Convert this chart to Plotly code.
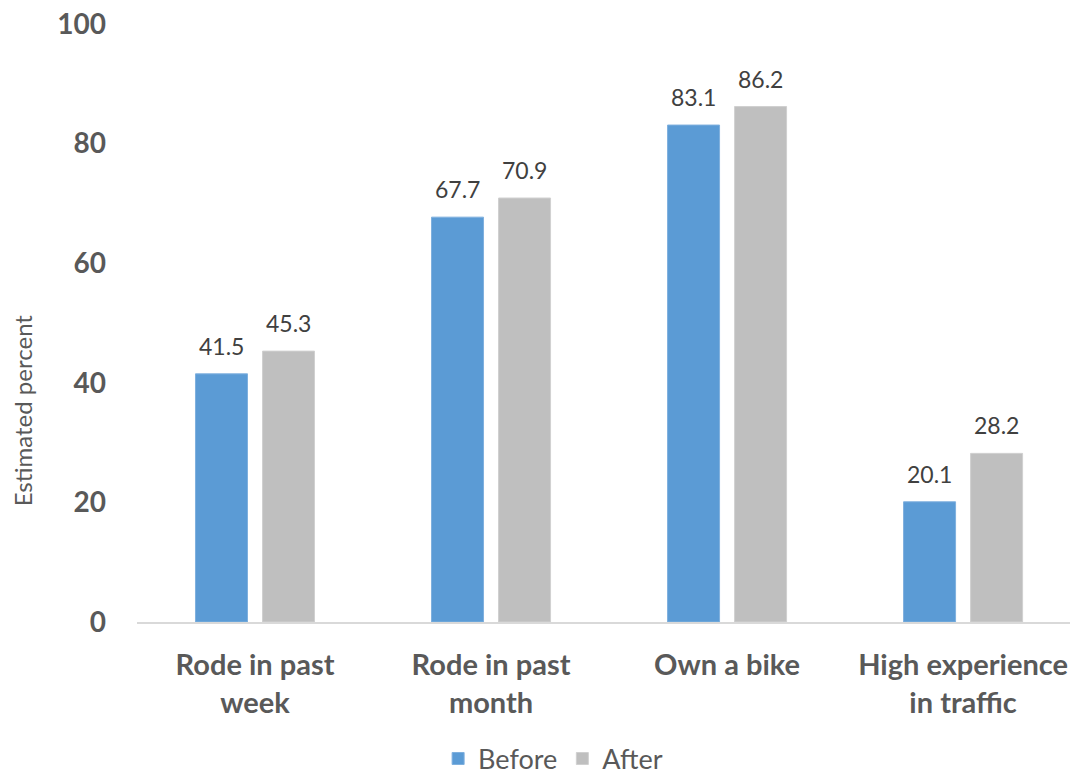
import plotly.graph_objects as go

categories = ["Rode in past<br>week", "Rode in past<br>month", "Own a bike", "High experience<br>in traffic"]
before = [41.5, 67.7, 83.1, 20.1]
after = [45.3, 70.9, 86.2, 28.2]
y_ticks = [0, 20, 40, 60, 80, 100]

FONT = "Lato, 'Open Sans', sans-serif"
BLUE = "#5B9BD5"
GRAY = "#BFBFBF"
LABEL_FONT = dict(family=FONT, size=23, color="#404040")

fig = go.Figure()
fig.add_trace(go.Bar(
    name="Before", x=categories, y=before,
    marker=dict(color=BLUE, line=dict(color="#7FB0DE", width=1)),
))
fig.add_trace(go.Bar(
    name="After", x=categories, y=after,
    marker=dict(color=GRAY, line=dict(color="#D0D0D0", width=1)),
))

# value labels above each bar (bars sit 33.5 px either side of the category centre)
for vals, shift in ((before, -33.5), (after, 33.5)):
    for cat, v in zip(categories, vals):
        fig.add_annotation(
            x=cat, y=v, xref="x", yref="y", text=f"{v:.1f}",
            showarrow=False, xshift=shift, yshift=12, yanchor="bottom",
            font=LABEL_FONT,
        )

# rotated axis title
fig.add_annotation(
    x=-115 / 933, xref="paper", xanchor="center", y=0.354, yref="paper", yanchor="middle",
    text="Estimated percent", textangle=-90, showarrow=False,
    font=dict(family=FONT, size=24, color="#595959"),
)

fig.update_layout(
    width=1070, height=778,
    margin=dict(l=137, r=0, t=24, b=156, autoexpand=False),
    paper_bgcolor="white", plot_bgcolor="white",
    barmode="group", bargap=0.432, bargroupgap=0.224,
    font=dict(family=FONT, color="#595959"),
    showlegend=True,
    legend=dict(
        orientation="h", x=0.446, xanchor="center", xref="paper",
        y=-0.229, yanchor="middle",
        font=dict(family=FONT, size=27, color="#595959"),
    ),
)
fig.update_xaxes(
    range=[-0.5, 3.453],
    showline=True, linecolor="#D9D9D9", linewidth=2,
    ticks="", showgrid=False,
    tickfont=dict(family=FONT, size=29, color="#595959", weight="bold"),
    ticklabelstandoff=16,
)
fig.update_yaxes(
    range=[0, 100], tickvals=y_ticks,
    showgrid=False, zeroline=False, showline=False,
    ticks="",
    tickfont=dict(family=FONT, size=28, color="#595959", weight="bold"),
    ticklabelstandoff=30,
)

fig.write_html("out.html")
